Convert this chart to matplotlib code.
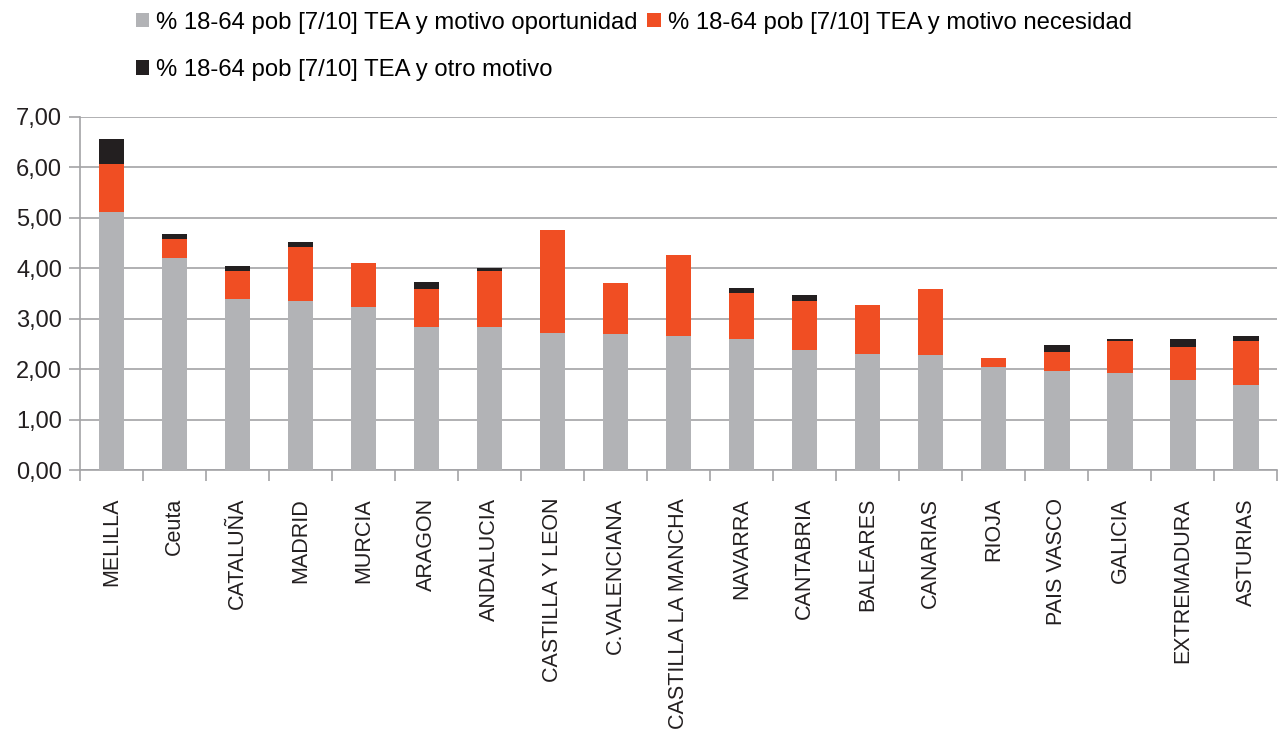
import numpy as np
import matplotlib
matplotlib.use("Agg")
import matplotlib.pyplot as plt
from matplotlib.ticker import FuncFormatter, FixedLocator

plt.rcParams['font.family'] = ['Liberation Sans', 'DejaVu Sans']

# ---- datos ----
regiones = ["MELILLA", "Ceuta", "CATALUÑA", "MADRID", "MURCIA", "ARAGON",
            "ANDALUCIA", "CASTILLA Y LEON", "C.VALENCIANA", "CASTILLA LA MANCHA",
            "NAVARRA", "CANTABRIA", "BALEARES", "CANARIAS", "RIOJA",
            "PAIS VASCO", "GALICIA", "EXTREMADURA", "ASTURIAS"]
oportunidad = [5.11, 4.21, 3.39, 3.36, 3.23, 2.84, 2.84, 2.71, 2.69, 2.66,
               2.60, 2.38, 2.30, 2.28, 2.04, 1.97, 1.92, 1.78, 1.68]
necesidad = [0.95, 0.37, 0.55, 1.07, 0.87, 0.74, 1.10, 2.05, 1.02, 1.61,
             0.91, 0.98, 0.98, 1.31, 0.19, 0.37, 0.64, 0.65, 0.88]
otro = [0.51, 0.10, 0.10, 0.08, 0.00, 0.15, 0.06, 0.00, 0.00, 0.00,
        0.09, 0.11, 0.00, 0.00, 0.00, 0.14, 0.04, 0.16, 0.09]
etiquetas = ["% 18-64 pob [7/10] TEA y motivo oportunidad",
             "% 18-64 pob [7/10] TEA y motivo necesidad",
             "% 18-64 pob [7/10] TEA y otro motivo"]
colores = ["#B2B3B6", "#F04E23", "#231F20"]

fig = plt.figure(figsize=(12.78, 7.30), dpi=100)
ax = fig.add_axes([0.0626, 0.356, 0.937, 0.484])

x = np.arange(len(regiones))
op = np.array(oportunidad)
ne = np.array(necesidad)
ot = np.array(otro)
w = 0.4
b1 = ax.bar(x, op, width=w, color=colores[0], label=etiquetas[0], zorder=3)
b2 = ax.bar(x, ne, width=w, bottom=op, color=colores[1], label=etiquetas[1], zorder=3)
b3 = ax.bar(x, ot, width=w, bottom=op + ne, color=colores[2], label=etiquetas[2], zorder=3)

grid_c = "#A3A3A6"
ax.set_ylim(0, 7)
ax.set_xlim(-0.5, len(regiones) - 0.5)
ax.set_yticks(np.arange(0, 8, 1))
ax.yaxis.set_major_formatter(FuncFormatter(lambda v, p: f"{v:.2f}".replace(".", ",")))
ax.grid(axis="y", color=grid_c, linewidth=1.2, zorder=0)

ax.set_xticks(x)
ax.set_xticklabels(regiones, rotation=90)
ax.xaxis.set_minor_locator(FixedLocator(np.arange(-0.5, len(regiones), 1)))
ax.tick_params(axis="x", which="major", length=0, pad=20, labelsize=15.5, colors="#231F20")
ax.tick_params(axis="x", which="minor", length=8, width=1.2, color=grid_c)
ax.tick_params(axis="y", length=8, width=1.2, color=grid_c, labelsize=17, labelcolor="#231F20", pad=5)

for s in ["top", "right"]:
    ax.spines[s].set_visible(False)
for s in ["left", "bottom"]:
    ax.spines[s].set_color(grid_c)
    ax.spines[s].set_linewidth(1.2)

# orden por columnas: oportunidad / otro | necesidad
fig.legend(handles=[b1, b3, b2], labels=[etiquetas[0], etiquetas[2], etiquetas[1]],
           ncol=2, loc="upper left",
           bbox_to_anchor=(0.099, 0.997), frameon=False, fontsize=17.2,
           handlelength=0.55, handleheight=0.55, handletextpad=0.3,
           columnspacing=0.4, labelspacing=1.05, borderaxespad=0)

fig.savefig("out.png", dpi=100)
